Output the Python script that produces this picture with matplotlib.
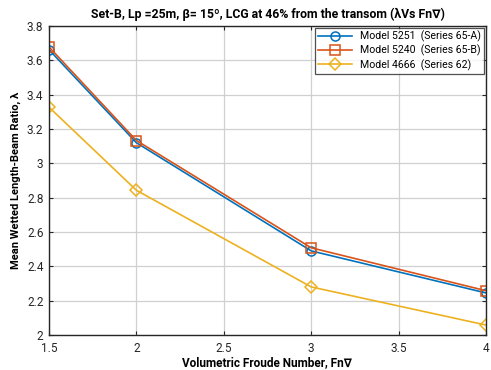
import matplotlib
matplotlib.use("Agg")
import matplotlib.pyplot as plt

plt.rcParams['font.family'] = ['Roboto', 'DejaVu Sans']

fn = [1.5, 2, 3, 4]
m5251 = [3.662, 3.12, 2.49, 2.245]
m5240 = [3.678, 3.133, 2.508, 2.258]
m4666 = [3.327, 2.843, 2.28, 2.058]
labels = ["Model 5251  (Series 65-A)", "Model 5240  (Series 65-B)", "Model 4666  (Series 62)"]
xticks = [1.5, 2, 2.5, 3, 3.5, 4]
yticks = [2, 2.2, 2.4, 2.6, 2.8, 3, 3.2, 3.4, 3.6, 3.8]

fig = plt.figure(figsize=(4.91, 3.70), dpi=100)
ax = fig.add_axes([49/491, 35/370, 437/491, 309/370])

ax.plot(fn, m5251, color='#0072BD', marker='o', ms=6.5, mfc='none', mew=1.1, lw=1.2, label=labels[0])
ax.plot(fn, m5240, color='#D95319', marker='s', ms=6.5, mfc='none', mew=1.1, lw=1.2, label=labels[1])
ax.plot(fn, m4666, color='#EDB120', marker='D', ms=6, mfc='none', mew=1.1, lw=1.2, label=labels[2])

ax.set_xlim(1.5, 4)
ax.set_ylim(2, 3.8)
ax.set_xticks(xticks)
ax.set_xticklabels([f"{v:g}" for v in xticks])
ax.set_yticks(yticks)
ax.set_yticklabels([f"{v:g}" for v in yticks])
ax.grid(True, color='#d0d0d0', lw=0.9)
ax.set_axisbelow(True)
ax.tick_params(direction='in', top=True, right=True, length=3, labelsize=8.5, colors='#262626')
ax.tick_params(axis='x', pad=5)
ax.tick_params(axis='y', pad=4)
for s in ax.spines.values():
    s.set_color('#262626')
    s.set_linewidth(1.0)

ax.set_xlabel("Volumetric Froude Number, Fn\u2207", fontsize=8.5, fontweight='bold', labelpad=1)
ax.set_ylabel("Mean Wetted Length-Beam Ratio, \u03bb", fontsize=8, fontweight='bold', labelpad=4)
ax.set_title("Set-B, Lp =25m, \u03b2= 15\u00ba, LCG at 46% from the transom (\u03bbVs Fn\u2207)",
             fontsize=8.8, fontweight='bold', pad=6)

leg = ax.legend(loc='upper right', fontsize=7.6, frameon=True, fancybox=False,
                edgecolor='#262626', borderaxespad=0.15, handlelength=3.2,
                borderpad=0.3, labelspacing=0.25)
leg.get_frame().set_linewidth(0.9)

fig.savefig("out.png", dpi=100)
